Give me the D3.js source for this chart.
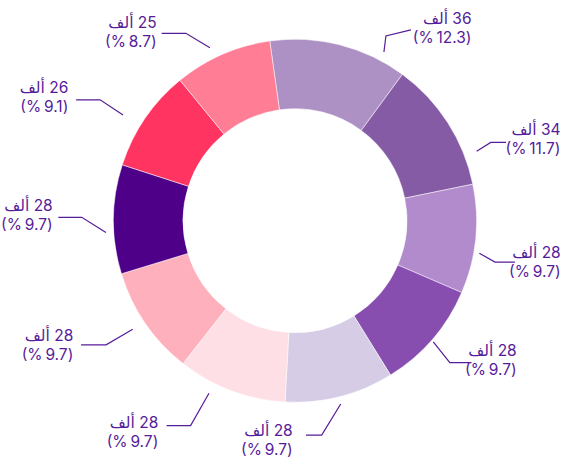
<!DOCTYPE html>
<html>
<head>
<meta charset="utf-8">
<script src="https://cdn.jsdelivr.net/npm/d3@7"></script>
<style>
  html, body { margin: 0; padding: 0; background: #fff; }
  svg { display: block; }
</style>
</head>
<body>
<svg id="chart" width="563" height="459"></svg>
<script>
// Slice values (thousands) and their shares (%), clockwise
const thousands = [36, 34, 28, 28, 28, 28, 28, 28, 26, 25];
const shares    = [12.3, 11.7, 9.7, 9.7, 9.7, 9.7, 9.7, 9.7, 9.1, 8.7];
const colors    = ["#ae91c4", "#865ba5", "#b18bcb", "#874eaf", "#d7cce6",
                   "#fedfe6", "#ffb0bd", "#4e0088", "#ff3460", "#ff7e96"];

// Leader line layout: start / elbow in polar form (deg clockwise from 12 o'clock, px),
// then a short horizontal run toward the label
const leadStartAng  = [27.8, 69.1, 100, 131.2, 166, 206.5, 236.2, 266.4, 301.6, 333.8];
const leadStartRad  = [190.7, 194.5, 187.2, 183.8, 188.9, 192.8, 195.3, 189.4, 201.9, 192.8];
const leadElbowAng  = [26.2, 68.2, 101.7, 132.5, 172.9, 207, 236.7, 270.9, 301.8, 329.8];
const leadElbowRad  = [205.9, 210.8, 204.2, 210, 216, 230, 226, 213.3, 229.3, 216.8];
const leadRun       = [25, 15.3, 20, 21.7, -15.7, -24, -25, -23.4, -24, -24.3];
const leadRise      = [-6, 0, 0, 0, 0, 0, 0, 0, 0, 0];
// Label blocks: right edge and centre of the first line
const labelRight    = [471.5, 560.5, 560.7, 516.7, 292.7, 158.3, 73.3, 52.7, 68.3, 156.7];
const labelLine1    = [18.3, 129.7, 252.7, 350.7, 430, 422.5, 335.8, 205.8, 87.3, 22.7];

const W = 563, H = 459;
const cx = 295, cy = 220.7;
const outerR = 181.5, innerR = 112;
const rotation = -8 * Math.PI / 180;
const ink = "#561c9a";
const fontSize = 15.5, lineGap = 19;

const svg = d3.select("#chart");
const g = svg.append("g").attr("transform", `translate(${cx},${cy})`);

const pie = d3.pie()
  .value(d => d.share)
  .sort(null)
  .startAngle(rotation)
  .endAngle(rotation + 2 * Math.PI);

const arc = d3.arc().innerRadius(innerR).outerRadius(outerR);

const data = shares.map((s, i) => ({ share: s, value: thousands[i], color: colors[i], i }));
const arcs = pie(data);

g.selectAll("path.slice")
  .data(arcs)
  .join("path")
  .attr("class", "slice")
  .attr("d", arc)
  .attr("fill", d => d.data.color)
  .attr("stroke", "#ffffff")
  .attr("stroke-width", 0.5);

const polar = (deg, r) => {
  const a = deg * Math.PI / 180;
  return [cx + r * Math.sin(a), cy - r * Math.cos(a)];
};

const labels = svg.append("g");

arcs.forEach((d, i) => {
  const p0 = polar(leadStartAng[i], leadStartRad[i]);
  const p1 = polar(leadElbowAng[i], leadElbowRad[i]);
  const p2 = [p1[0] + leadRun[i], p1[1] + leadRise[i]];
  labels.append("path")
    .attr("d", d3.line()([p0, p1, p2]))
    .attr("fill", "none")
    .attr("stroke", ink)
    .attr("stroke-width", 1.2);

  // two-line right-to-left label: amount, then share in brackets
  const lines = [`${d.data.value} ألف`, `(${d.data.share}\u2009%)`];
  lines.forEach((txt, k) => {
    const t = labels.append("text")
      .attr("direction", "rtl")
      .attr("text-anchor", "middle")
      .attr("font-family", "Inter, 'DejaVu Sans', sans-serif")
      .attr("font-size", fontSize)
      .attr("fill", ink)
      .attr("y", labelLine1[i] + k * lineGap + fontSize * 0.36)
      .text(txt);
    const w = t.node().getComputedTextLength();
    t.attr("x", labelRight[i] - w / 2);
  });
});
</script>
</body>
</html>
